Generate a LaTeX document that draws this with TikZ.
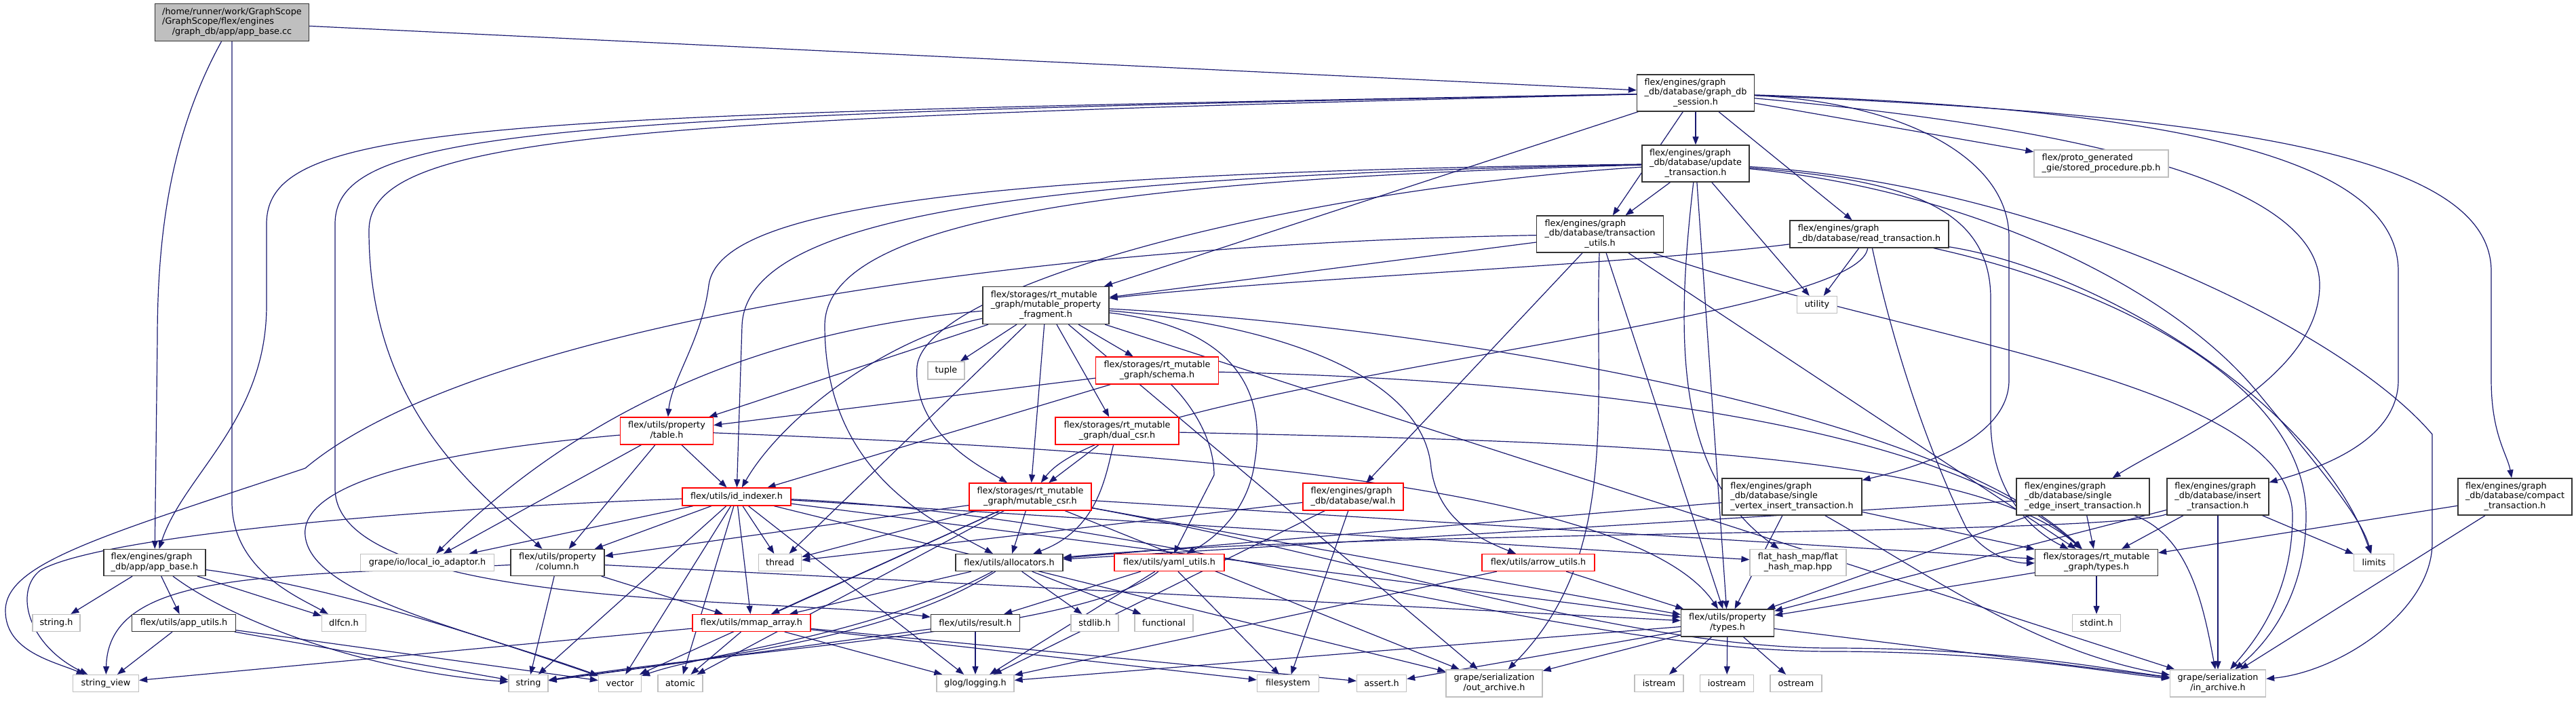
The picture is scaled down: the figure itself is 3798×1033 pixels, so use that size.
\documentclass[tikz,border=0pt]{standalone}
\usepackage{fontspec}
\setmainfont{DejaVu Sans}
\usetikzlibrary{arrows.meta,backgrounds}
\definecolor{edgeblue}{HTML}{191970}
\newcommand{\dxfont}{\fontsize{12.8}{14.5}\selectfont}
\newcommand{\lines}[1]{\begin{tabular}{@{}l@{}}#1\end{tabular}}
\newcommand{\lastc}[1]{\multicolumn{1}{@{}c@{}}{#1}}

\begin{document}
\begin{tikzpicture}[x=1pt, y=-1pt, font=\dxfont,
          >={Triangle[length=12pt,width=9pt]},
          doc/.style={draw=black!80, fill=white, line width=1.3pt, inner sep=0pt, align=center},
          ext/.style={doc, draw=black!25},
          cut/.style={doc, draw=red},
          src/.style={doc, fill=black!25},
          arr/.style={->, edgeblue, line width=1.2pt}]
        \useasboundingbox (0,0) rectangle (3798,1033);
        % top rows
        \node[src, minimum width=227, minimum height=55] (root) at (342,33) {\lines{/home/runner/work/GraphScope\\/GraphScope/flex/engines\\\lastc{/graph\_db/app/app\_base.cc}}};
        \node[doc, minimum width=173, minimum height=54] (session) at (2500,137) {\lines{flex/engines/graph\\\_db/database/graph\_db\\\lastc{\_session.h}}};
        \node[doc, minimum width=158, minimum height=54] (update) at (2500,241) {\lines{flex/engines/graph\\\_db/database/update\\\lastc{\_transaction.h}}};
        \node[ext, minimum width=198, minimum height=40] (proto) at (3098,241) {\lines{flex/proto\_generated\\\lastc{\_gie/stored\_procedure.pb.h}}};
        \node[doc, minimum width=187, minimum height=54] (tutils) at (2359,345) {\lines{flex/engines/graph\\\_db/database/transaction\\\lastc{\_utils.h}}};
        \node[doc, minimum width=234, minimum height=40] (read) at (2756,345) {\lines{flex/engines/graph\\\lastc{\_db/database/read\_transaction.h}}};
        \node[doc, minimum width=186, minimum height=55] (mpf) at (1542,450) {\lines{flex/storages/rt\_mutable\\\_graph/mutable\_property\\\lastc{\_fragment.h}}};
        \node[ext, minimum width=59, minimum height=25] (utility) at (2679,449) {utility};
        \node[ext, minimum width=54, minimum height=26] (tuple) at (1395,546) {tuple};
        \node[cut, minimum width=181, minimum height=40] (schema) at (1706,546) {\lines{flex/storages/rt\_mutable\\\lastc{\_graph/schema.h}}};
        \node[cut, minimum width=137, minimum height=40] (table) at (983,635) {\lines{flex/utils/property\\\lastc{/table.h}}};
        \node[cut, minimum width=182, minimum height=40] (dualcsr) at (1647,635) {\lines{flex/storages/rt\_mutable\\\lastc{\_graph/dual\_csr.h}}};
        % middle rows
        \node[cut, minimum width=160, minimum height=26] (idx) at (1086,732) {flex/utils/id\_indexer.h};
        \node[cut, minimum width=180, minimum height=40] (mcsr) at (1519,732) {\lines{flex/storages/rt\_mutable\\\lastc{\_graph/mutable\_csr.h}}};
        \node[cut, minimum width=148, minimum height=40] (wal) at (1995,732) {\lines{flex/engines/graph\\\lastc{\_db/database/wal.h}}};
        \node[doc, minimum width=206, minimum height=54] (svi) at (2642,732) {\lines{flex/engines/graph\\\_db/database/single\\\lastc{\_vertex\_insert\_transaction.h}}};
        \node[doc, minimum width=196, minimum height=54] (sei) at (3071,732) {\lines{flex/engines/graph\\\_db/database/single\\\lastc{\_edge\_insert\_transaction.h}}};
        \node[doc, minimum width=150, minimum height=54] (ins) at (3270,732) {\lines{flex/engines/graph\\\_db/database/insert\\\lastc{\_transaction.h}}};
        \node[doc, minimum width=168, minimum height=54] (compact) at (3708,732) {\lines{flex/engines/graph\\\_db/database/compact\\\lastc{\_transaction.h}}};
        \node[doc, minimum width=150, minimum height=39] (appbaseh) at (228,829) {\lines{flex/engines/graph\\\lastc{\_db/app/app\_base.h}}};
        \node[ext, minimum width=197, minimum height=25] (localio) at (630,829) {grape/io/local\_io\_adaptor.h};
        \node[doc, minimum width=138, minimum height=39] (column) at (822,829) {\lines{flex/utils/property\\\lastc{/column.h}}};
        \node[ext, minimum width=63, minimum height=25] (thread) at (1150,829) {thread};
        \node[doc, minimum width=158, minimum height=25] (alloc) at (1488,829) {flex/utils/allocators.h};
        \node[cut, minimum width=162, minimum height=25] (yaml) at (1724,829) {flex/utils/yaml\_utils.h};
        \node[cut, minimum width=166, minimum height=25] (arrowu) at (2268,829) {flex/utils/arrow\_utils.h};
        \node[ext, minimum width=142, minimum height=39] (flathash) at (2651,829) {\lines{flat\_hash\_map/flat\\\lastc{\_hash\_map.hpp}}};
        \node[doc, minimum width=181, minimum height=39] (rttypes) at (3091,829) {\lines{flex/storages/rt\_mutable\\\lastc{\_graph/types.h}}};
        \node[ext, minimum width=59, minimum height=25] (limits) at (3500,829) {limits};
        % lower rows
        \node[ext, minimum width=70, minimum height=25] (stringh) at (83,918) {string.h};
        \node[doc, minimum width=153, minimum height=25] (apputils) at (271,918) {flex/utils/app\_utils.h};
        \node[ext, minimum width=65, minimum height=25] (dlfcn) at (507,918) {dlfcn.h};
        \node[cut, minimum width=174, minimum height=25] (mmap) at (1108,918) {flex/utils/mmap\_array.h};
        \node[doc, minimum width=131, minimum height=25] (result) at (1438,918) {flex/utils/result.h};
        \node[ext, minimum width=70, minimum height=25] (stdlib) at (1614,918) {stdlib.h};
        \node[ext, minimum width=86, minimum height=25] (functional) at (1716,918) {functional};
        \node[doc, minimum width=137, minimum height=40] (ptypes) at (2547,918) {\lines{flex/utils/property\\\lastc{/types.h}}};
        \node[ext, minimum width=71, minimum height=25] (stdint) at (3091,918) {stdint.h};
        \node[ext, minimum width=97, minimum height=25] (stringview) at (156,1007) {string\_view};
        \node[ext, minimum width=58, minimum height=25] (string) at (779,1007) {string};
        \node[ext, minimum width=63, minimum height=25] (vector) at (914,1007) {vector};
        \node[ext, minimum width=66, minimum height=25] (atomic) at (1003,1007) {atomic};
        \node[ext, minimum width=114, minimum height=25] (logging) at (1438,1007) {glog/logging.h};
        \node[ext, minimum width=91, minimum height=25] (filesystem) at (1899,1007) {filesystem};
        \node[ext, minimum width=73, minimum height=25] (asserth) at (2037,1007) {assert.h};
        \node[ext, minimum width=142, minimum height=40] (outarch) at (2203,1007) {\lines{grape/serialization\\\lastc{/out\_archive.h}}};
        \node[ext, minimum width=72, minimum height=25] (istream) at (2446,1007) {istream};
        \node[ext, minimum width=79, minimum height=25] (iostream) at (2546,1007) {iostream};
        \node[ext, minimum width=76, minimum height=25] (ostream) at (2648,1007) {ostream};
        \node[ext, minimum width=141, minimum height=40] (inarch) at (3270,1007) {\lines{grape/serialization\\\lastc{/in\_archive.h}}};
        \begin{scope}[on background layer]
        \fill[white] (0,0) rectangle (3798,1033);
        % straight includes
        \foreach \a/\b in {root/session, session/update, session/tutils, session/read, session/proto, session/mpf,
            update/tutils, update/utility, update/ptypes, read/utility,
            tutils/mpf, tutils/wal, tutils/ptypes, tutils/rttypes,
            mpf/schema, mpf/mcsr, mpf/dualcsr, mpf/tuple, mpf/thread, mpf/table, mpf/inarch, mpf/outarch,
            schema/table, schema/idx, dualcsr/mcsr,
            table/idx, table/column, table/localio,
            idx/atomic, idx/thread, idx/vector, idx/flathash, idx/mmap, idx/column, idx/ptypes,
            idx/logging, idx/localio, idx/outarch, idx/string,
            column/string, column/ptypes, column/mmap,
            mcsr/thread, mcsr/mmap, mcsr/atomic, mcsr/alloc, mcsr/rttypes, mcsr/ptypes, mcsr/outarch,
            mcsr/vector, mcsr/column,
            alloc/stdlib, alloc/functional, alloc/mmap,
            yaml/result, yaml/logging, yaml/filesystem, result/logging, result/string,
            mmap/asserth, mmap/atomic, mmap/logging, mmap/filesystem, mmap/stringview,
            arrowu/ptypes, arrowu/logging, wal/filesystem, wal/logging, wal/thread,
            svi/alloc, svi/rttypes, svi/ptypes, sei/alloc, sei/rttypes, sei/ptypes,
            ins/rttypes, ins/ptypes, ins/limits, ins/inarch, compact/rttypes, compact/inarch,
            rttypes/stdint, rttypes/ptypes,
            ptypes/asserth, ptypes/istream, ptypes/ostream, ptypes/iostream, ptypes/outarch, ptypes/inarch, ptypes/logging,
            apputils/stringview, apputils/string, apputils/vector,
            appbaseh/stringh, appbaseh/apputils, appbaseh/dlfcn}
          \draw[arr] (\a) -- (\b);
        % long routed includes
        \draw[arr] (root) .. controls (250,200) and (232,350) .. (232,500) -- (appbaseh);
        \draw[arr] (root.south) -- (342,740) .. controls (342,840) and (440,880) .. (dlfcn);
        \draw[arr] (session) .. controls (700,170) and (393,180) .. (393,330) -- (393,450) .. controls (393,620) and (270,700) .. (appbaseh);
        \draw[arr] (session) .. controls (800,170) and (494,190) .. (494,330) -- (494,720) .. controls (494,900) and (1150,880) .. (result);
        \draw[arr] (session) .. controls (900,175) and (544,200) .. (544,340) .. controls (544,600) and (700,720) .. (column);
        \draw[arr] (session) .. controls (3300,170) and (3673,230) .. (3673,400) -- (3673,560) .. controls (3673,640) and (3697,670) .. (compact);
        \draw[arr] (session) .. controls (3200,160) and (3536,230) .. (3536,400) -- (3536,560) .. controls (3536,650) and (3420,690) .. (ins);
        \draw[arr] (session) .. controls (3200,200) and (3420,300) .. (3420,420) .. controls (3420,560) and (3200,650) .. (sei);
        \draw[arr] (session) .. controls (2800,150) and (2962,230) .. (2962,350) -- (2962,560) .. controls (2962,650) and (2820,690) .. (svi);
        \draw[arr] (update) .. controls (1400,255) and (1060,310) .. (1045,420) .. controls (1035,500) and (990,560) .. (table);
        \draw[arr] (update) .. controls (1500,260) and (1100,320) .. (1094,480) -- (idx);
        \draw[arr] (update) .. controls (1600,265) and (1216,330) .. (1216,480) .. controls (1216,700) and (1380,770) .. (alloc);
        \draw[arr] (update) .. controls (1900,280) and (1365,420) .. (1352,540) .. controls (1345,640) and (1450,690) .. (mcsr);
        \draw[arr] (update) .. controls (2800,265) and (2935,300) .. (2935,440) -- (2935,620) .. controls (2935,720) and (2990,780) .. (rttypes);
        \draw[arr] (update) .. controls (2900,280) and (3200,420) .. (3330,580) .. controls (3420,690) and (3480,760) .. (limits);
        \draw[arr] (update) .. controls (3000,270) and (3450,480) .. (3586,640) -- (3586,800) .. controls (3586,900) and (3450,990) .. (inarch);
        \draw[arr] (update) .. controls (2470,500) and (2470,700) .. (flathash);
        \draw[arr] (read) .. controls (2400,390) and (1900,410) .. (mpf);
        \draw[arr] (read) .. controls (2740,480) and (1650,560) .. (mcsr);
        \draw[arr] (read) .. controls (2800,550) and (2860,700) .. (2900,780) .. controls (2930,820) and (2970,830) .. (rttypes);
        \draw[arr] (read) .. controls (3100,420) and (3400,560) .. (3400,760) .. controls (3400,880) and (3340,950) .. (inarch);
        \draw[arr] (read) .. controls (3100,400) and (3420,600) .. (limits);
        \draw[arr] (tutils) .. controls (2800,500) and (3380,560) .. (3380,760) .. controls (3380,880) and (3320,950) .. (inarch);
        \draw[arr] (tutils) .. controls (2350,600) and (2390,820) .. (outarch);
        \draw[arr] (tutils) .. controls (1500,360) and (700,480) .. (450,690) .. controls (150,790) and (8,830) .. (8,900) .. controls (8,960) and (80,975) .. (stringview);
        \draw[arr] (idx) .. controls (600,750) and (150,790) .. (60,840) .. controls (20,870) and (40,950) .. (stringview);
        \draw[arr] (table) .. controls (700,660) and (440,700) .. (450,790) .. controls (460,880) and (700,930) .. (vector);
        \draw[arr] (table) .. controls (1600,660) and (2400,700) .. (ptypes);
        \draw[arr] (mpf) .. controls (1300,500) and (1150,620) .. (idx);
        \draw[arr] (mpf) .. controls (1200,480) and (900,560) .. (localio);
        \draw[arr] (mpf) .. controls (1800,480) and (1870,560) .. (1850,680) .. controls (1840,760) and (1780,800) .. (yaml);
        \draw[arr] (mpf) .. controls (1900,480) and (2100,560) .. (2110,690) .. controls (2120,760) and (2170,790) .. (arrowu);
        \draw[arr] (mpf) .. controls (2100,480) and (2850,600) .. (rttypes);
        \draw[arr] (schema) .. controls (1760,600) and (1790,650) .. (1790,700) -- (yaml);
        \draw[arr] (schema) .. controls (2300,560) and (2860,620) .. (rttypes);
        \draw[arr] (dualcsr) .. controls (1630,700) and (1620,780) .. (alloc);
        \draw[arr] (dualcsr) .. controls (2300,650) and (2900,660) .. (rttypes);
        \draw[arr] (idx) .. controls (1700,760) and (2300,960) .. (2700,960) .. controls (2950,960) and (3100,990) .. (inarch);
        \draw[arr] (mcsr) .. controls (2000,820) and (2400,955) .. (2700,955) .. controls (2950,955) and (3100,985) .. (inarch);
        \draw[arr] (alloc) .. controls (1300,950) and (1000,975) .. (string);
        \draw[arr] (alloc) .. controls (1280,940) and (1050,960) .. (vector);
        \draw[arr] (yaml) .. controls (1600,930) and (1100,955) .. (string);
        \draw[arr] (column) .. controls (400,850) and (160,840) .. (stringview);
        \draw[arr] (appbaseh) .. controls (350,920) and (550,990) .. (string);
        \draw[arr] (appbaseh) .. controls (450,860) and (600,900) .. (vector);
        \draw[arr] (svi) .. controls (2850,850) and (3000,960) .. (inarch);
        \draw[arr] (sei) .. controls (3230,790) and (3250,900) .. (inarch);
        \draw[arr] (ins) .. controls (3100,790) and (2000,780) .. (alloc);
        \end{scope}
      \end{tikzpicture}
\end{document}
